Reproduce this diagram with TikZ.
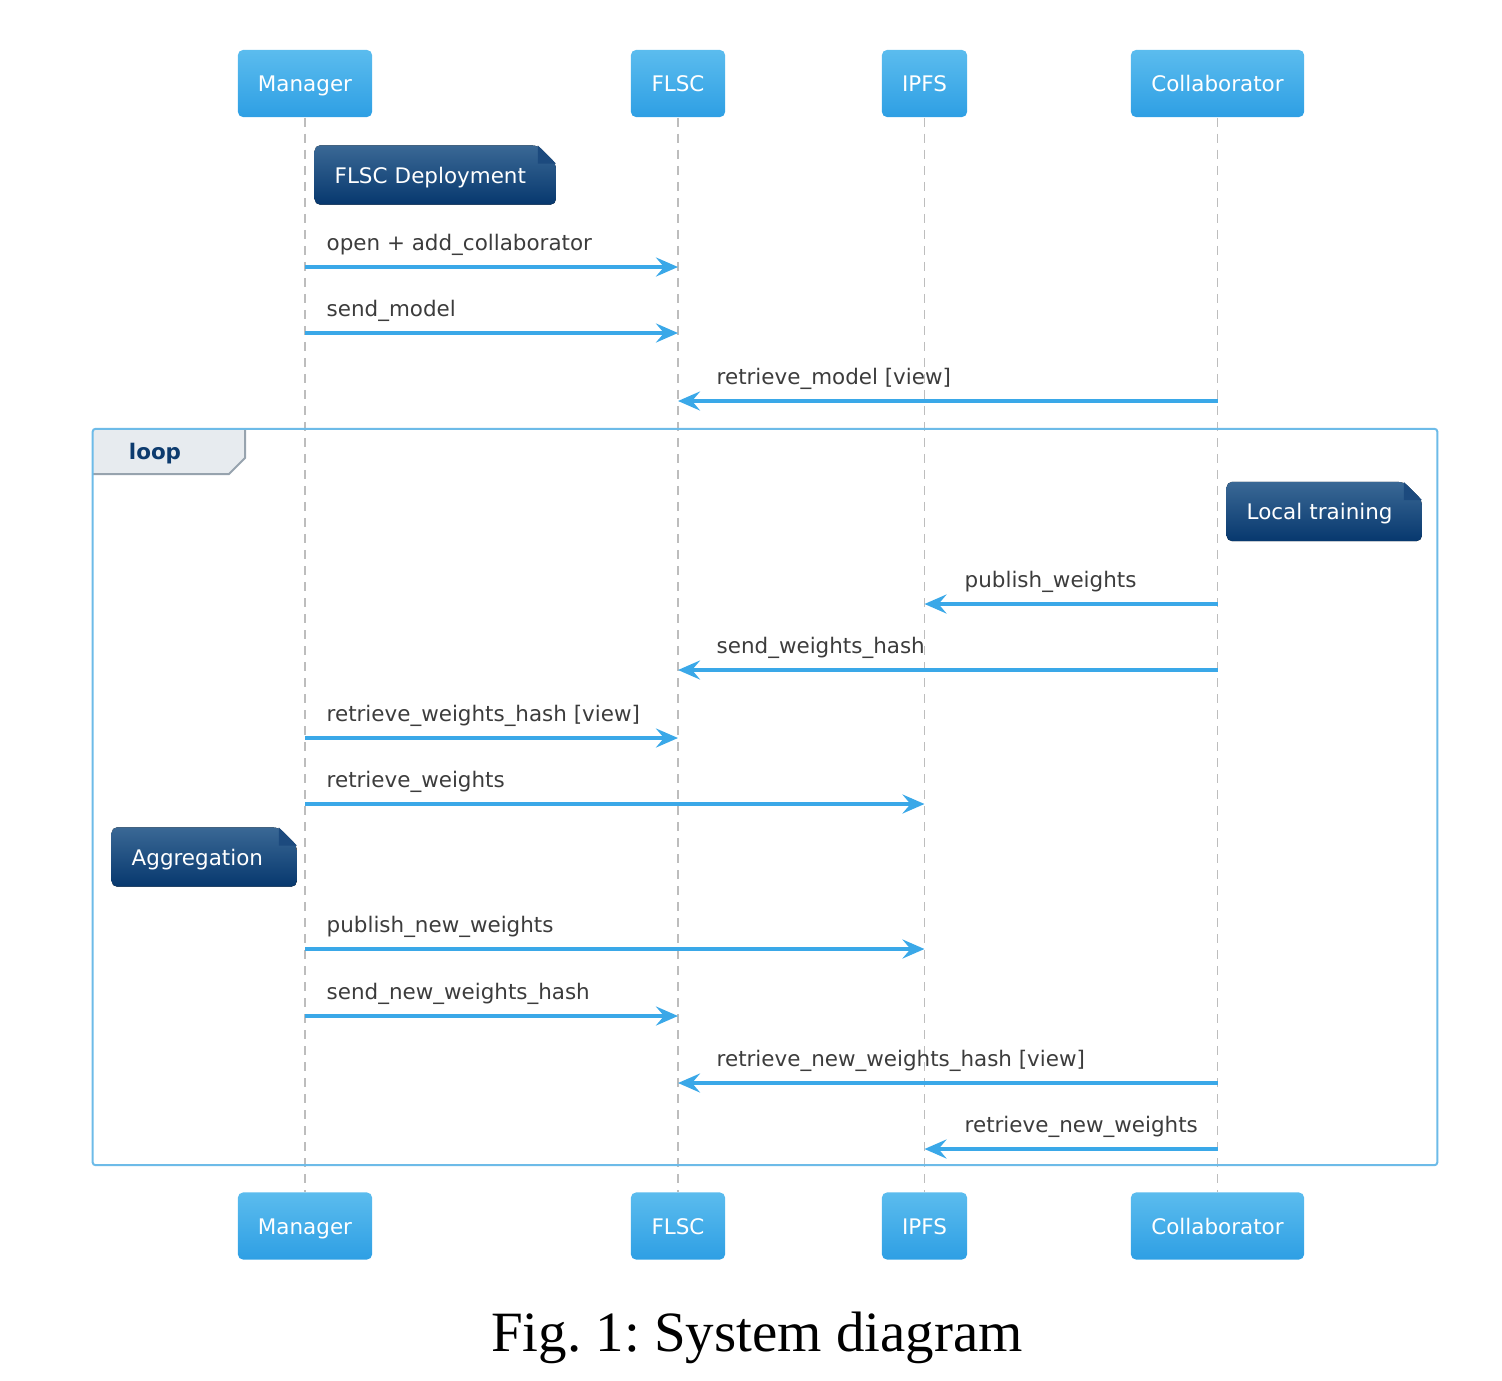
\documentclass[tikz,border=0pt]{standalone}
\usepackage{fontspec}
\setmainfont{Liberation Serif}
\newfontfamily\dejavu{DejaVu Sans}
\usetikzlibrary{arrows.meta,positioning}
\newcommand{\seqfont}{\dejavu\fontsize{6.1}{7.3}\selectfont}
\definecolor{partTop}{HTML}{5BBCEE}
\definecolor{partBot}{HTML}{2E9FE4}
\definecolor{noteTop}{HTML}{3A6895}
\definecolor{noteBot}{HTML}{07386E}
\definecolor{noteFold}{HTML}{1C4A7E}
\definecolor{arrowBlue}{HTML}{3AA8E8}
\definecolor{msgText}{HTML}{3C3C3C}
\definecolor{lifeGray}{HTML}{BDBDBD}
\definecolor{frameBlue}{HTML}{6DBBE8}
\definecolor{tabFill}{HTML}{E7EBEF}
\definecolor{tabEdge}{HTML}{97A3AE}
\definecolor{loopText}{HTML}{0D3B6E}
\tikzset{
  participant/.style={rounded corners=0.05cm, top color=partTop, bottom color=partBot,
    text=white, font=\seqfont, minimum height=0.67cm, inner sep=0,
    text height=0.16cm, text depth=0cm},
  lifeline/.style={draw=lifeGray, line width=0.5pt, dash pattern=on 0.09cm off 0.07cm},
  msg/.style={draw=arrowBlue, line width=0.04cm,
    -{Stealth[length=0.22cm, width=0.19cm, inset=0.08cm]}},
  msglabel/.style={anchor=base west, text=msgText, font=\seqfont, inner sep=0},
  notebox/.style={anchor=west, text=white, font=\seqfont, align=left,
    minimum height=0.59cm, inner ysep=0, inner xsep=0.2cm,
    text height=0.16cm, text depth=0cm,
    path picture={
      \fill[top color=noteTop, bottom color=noteBot, rounded corners=0.05cm]
        (path picture bounding box.south west) -- (path picture bounding box.north west)
        -- ([xshift=-0.18cm]path picture bounding box.north east)
        -- ([yshift=-0.18cm]path picture bounding box.north east)
        -- (path picture bounding box.south east) -- cycle;
      \fill[noteFold] ([xshift=-0.18cm]path picture bounding box.north east)
        -- ([xshift=-0.18cm, yshift=-0.18cm]path picture bounding box.north east)
        -- ([yshift=-0.18cm]path picture bounding box.north east) -- cycle;
    }},
  loopframe/.style={draw=frameBlue, line width=0.02cm, rounded corners=0.03cm, inner sep=0}
}
\begin{document}
\begin{tikzpicture}[x=0.01cm, y=-0.01cm]
  \useasboundingbox (0,0) rectangle (1502,1381);
  \node[participant, minimum width=1.34cm] (mgrtop) at (305,83.5) {Manager};
  \node[participant, minimum width=0.94cm] (flsctop) at (678,83.5) {FLSC};
  \node[participant, minimum width=0.85cm] (ipfstop) at (924.5,83.5) {IPFS};
  \node[participant, minimum width=1.73cm] (coltop) at (1217.5,83.5) {Collaborator};
  \node[participant, minimum width=1.34cm] (mgrbot) at (305,1226) {Manager};
  \node[participant, minimum width=0.94cm] (flscbot) at (678,1226) {FLSC};
  \node[participant, minimum width=0.85cm] (ipfsbot) at (924.5,1226) {IPFS};
  \node[participant, minimum width=1.73cm] (colbot) at (1217.5,1226) {Collaborator};
  \draw[lifeline] (mgrtop) -- (mgrbot);
  \draw[lifeline] (flsctop) -- (flscbot);
  \draw[lifeline] (ipfstop) -- (ipfsbot);
  \draw[lifeline] (coltop) -- (colbot);

  \fill[tabFill] (93,429) -- (245,429) -- (245,458) -- (229,474) -- (93,474) -- cycle;
  \draw[tabEdge, line width=0.02cm] (245,429) -- (245,458) -- (229,474) -- (93,474);
  \node[loopframe, minimum width=13.44cm, minimum height=7.36cm] (loop) at (765,797) {};
  \node[font=\dejavu\bfseries\fontsize{6.1}{7.3}\selectfont, text=loopText,
    text height=0.16cm, text depth=0cm] (looplbl) at (155,451) {loop};

  \node[notebox, text width=2.01cm] (deploy) at (314,175) {FLSC Deployment};
  \node[notebox, text width=1.55cm] (training) at (1226,511.5) {Local training};
  \node[notebox, text width=1.45cm] (aggregation) at (111,857) {Aggregation};

  \draw[msg] (mgrtop |- 0,267) -- (flsctop |- 0,267);
  \node[msglabel] (m1) at (326,250) {open + add\_collaborator};
  \draw[msg] (mgrtop |- 0,333) -- (flsctop |- 0,333);
  \node[msglabel] (m2) at (326,316) {send\_model};
  \draw[msg] (coltop |- 0,401) -- (flsctop |- 0,401);
  \node[msglabel] (m3) at (716,384) {retrieve\_model [view]};
  \draw[msg] (coltop |- 0,604) -- (ipfstop |- 0,604);
  \node[msglabel] (m4) at (964,587) {publish\_weights};
  \draw[msg] (coltop |- 0,670) -- (flsctop |- 0,670);
  \node[msglabel] (m5) at (716,653) {send\_weights\_hash};
  \draw[msg] (mgrtop |- 0,738) -- (flsctop |- 0,738);
  \node[msglabel] (m6) at (326,721) {retrieve\_weights\_hash [view]};
  \draw[msg] (mgrtop |- 0,804) -- (ipfstop |- 0,804);
  \node[msglabel] (m7) at (326,787) {retrieve\_weights};
  \draw[msg] (mgrtop |- 0,949) -- (ipfstop |- 0,949);
  \node[msglabel] (m8) at (326,932) {publish\_new\_weights};
  \draw[msg] (mgrtop |- 0,1016) -- (flsctop |- 0,1016);
  \node[msglabel] (m9) at (326,999) {send\_new\_weights\_hash};
  \draw[msg] (coltop |- 0,1083) -- (flsctop |- 0,1083);
  \node[msglabel] (m10) at (716,1066) {retrieve\_new\_weights\_hash [view]};
  \draw[msg] (coltop |- 0,1149) -- (ipfstop |- 0,1149);
  \node[msglabel] (m11) at (964,1132) {retrieve\_new\_weights};

  \node[font=\fontsize{16.2}{19}\selectfont] (caption) at (757,1338) {Fig.~1:~System diagram};
\end{tikzpicture}
\end{document}
